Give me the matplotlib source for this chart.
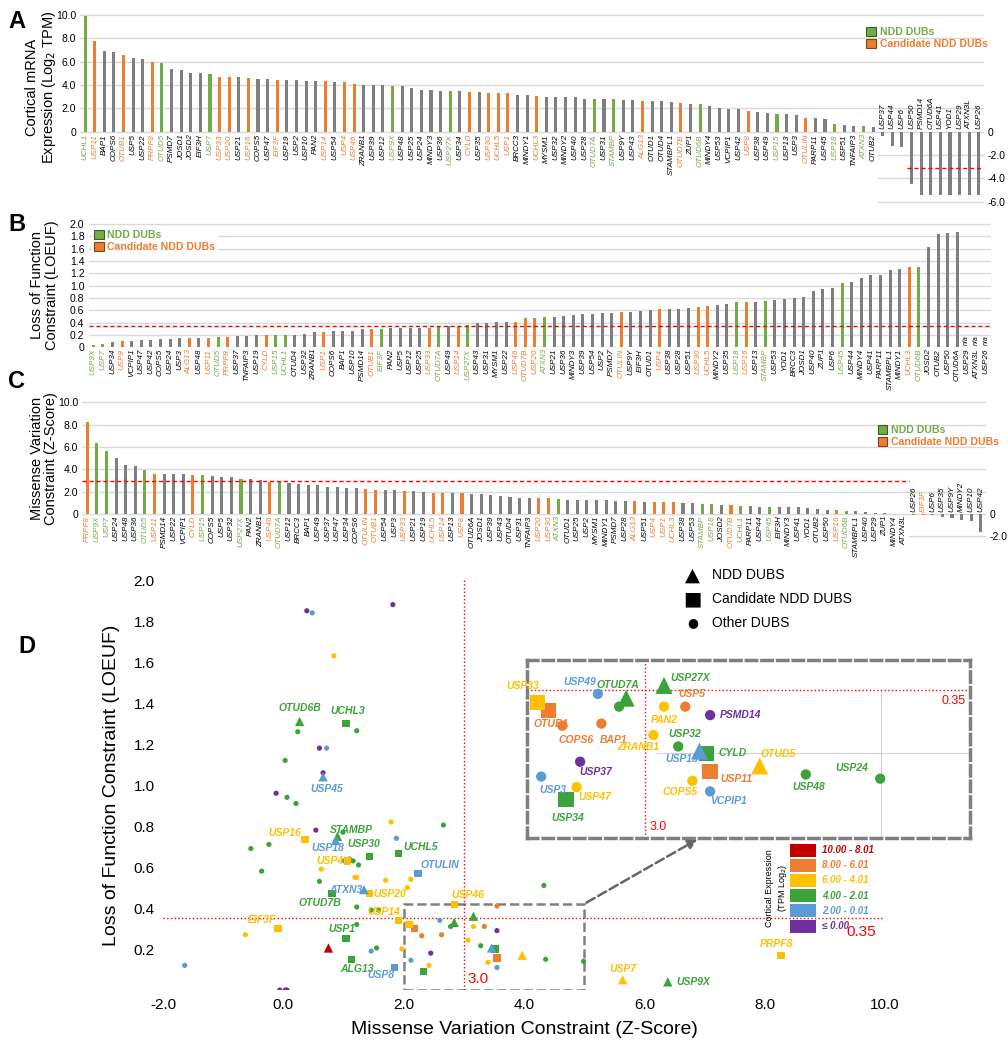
import numpy as np
import matplotlib.pyplot as plt
from matplotlib.patches import Rectangle, Patch

plt.rcParams['font.family'] = ['Liberation Sans', 'DejaVu Sans']

GREEN = '#70ad47'
ORANGE = '#ed7d31'
GREY = '#7f7f7f'
RED = '#ff0000'

ndd = ['UCHL1', 'OTUD5', 'USP7', 'USP9X', 'USP27X', 'OTUD7A', 'STAMBP', 'OTUD6B',
       'USP15', 'USP18', 'ATXN3', 'USP45']
candidate = ['USP11', 'OTUB1', 'PRPF8', 'USP33', 'USP20', 'USP16', 'EIF3F', 'USP14',
             'USP4', 'USP46', 'CYLD', 'USP30', 'UCHL5', 'USP1', 'UCHL3', 'ALG13',
             'OTUD7B', 'USP8', 'OTULIN']

# panel A: cortical expression (log2 TPM)
a_genes = ['UCHL1', 'USP11', 'BAP1', 'COPS6', 'OTUB1', 'USP5', 'USP22', 'PRPF8', 'OTUD5',
           'PSMD7', 'JOSD1', 'JOSD2', 'EIF3H', 'USP7', 'USP33', 'USP20', 'USP21', 'USP16',
           'COPS5', 'USP47', 'EIF3F', 'USP19', 'USP2', 'USP10', 'PAN2', 'USP14', 'USP54',
           'USP4', 'USP46', 'ZRANB1', 'USP39', 'USP12', 'USP9X', 'USP48', 'USP25', 'USP24',
           'MINDY3', 'USP36', 'USP27X', 'USP34', 'CYLD', 'USP35', 'USP30', 'UCHL5', 'USP1',
           'BRCC3', 'MINDY1', 'UCHL3', 'MYSM1', 'USP32', 'MINDY2', 'USP40', 'USP28',
           'OTUD7A', 'USP31', 'STAMBP', 'USP9Y', 'USP43', 'ALG13', 'OTUD1', 'OTUD4',
           'STAMBPL1', 'OTUD7B', 'ZUP1', 'OTUD6B', 'MINDY4', 'USP53', 'VCPIP1', 'USP42',
           'USP8', 'USP38', 'USP49', 'USP15', 'USP13', 'USP3', 'OTULIN', 'PARP11', 'USP45',
           'USP18', 'USP51', 'TNFAIP3', 'ATXN3', 'OTUB2', 'USP37', 'USP44', 'USP6', 'USP50',
           'PSMD14', 'OTUD6A', 'USP41', 'YOD1', 'USP29', 'ATXN3L', 'USP26']
a_vals = [9.9, 7.77, 6.9, 6.83, 6.54, 6.26, 6.23, 6.0, 5.91, 5.4, 5.31, 5.06, 5.0, 4.94,
          4.69, 4.69, 4.66, 4.57, 4.54, 4.49, 4.43, 4.43, 4.43, 4.34, 4.34, 4.34, 4.23,
          4.23, 4.06, 4.03, 4.03, 4.0, 3.94, 3.89, 3.71, 3.54, 3.54, 3.51, 3.49, 3.46, 3.43,
          3.37, 3.34, 3.34, 3.31, 3.17, 3.11, 3.06, 2.97, 2.97, 2.94, 2.94, 2.83, 2.8, 2.8,
          2.77, 2.71, 2.69, 2.66, 2.6, 2.6, 2.54, 2.46, 2.37, 2.37, 2.2, 2.03, 1.97, 1.94,
          1.77, 1.71, 1.63, 1.49, 1.49, 1.46, 1.17, 1.14, 1.09, 0.63, 0.57, 0.51, 0.49,
          0.37, -0.37, -1.23, -1.29, -4.43, -5.37, -5.37, -5.37, -5.37, -5.37, -5.37, -5.37]
a_cut = -3.1

# panel B: LOEUF
b_genes = ['USP9X', 'USP7', 'USP34', 'USP8', 'VCPIP1', 'USP47', 'USP42', 'COPS5', 'USP24',
           'USP3', 'ALG13', 'USP48', 'USP11', 'OTUD5', 'PRPF8', 'USP37', 'TNFAIP3', 'USP19',
           'CYLD', 'USP15', 'UCHL1', 'OTUD4', 'USP32', 'ZRANB1', 'USP1', 'COPS6', 'BAP1',
           'USP10', 'PSMD14', 'OTUB1', 'EIF3F', 'PAN2', 'USP5', 'USP12', 'USP25', 'USP33',
           'OTUD7A', 'USP49', 'USP14', 'USP27X', 'USP43', 'USP31', 'MYSM1', 'USP22', 'USP46',
           'OTUD7B', 'USP20', 'ATXN3', 'USP21', 'USP36', 'MINDY3', 'USP39', 'USP54', 'USP2',
           'PSMD7', 'OTULIN', 'USP9Y', 'EIF3H', 'OTUD1', 'USP4', 'USP38', 'USP28', 'USP51',
           'USP30', 'UCHL5', 'MINDY2', 'USP35', 'USP18', 'USP16', 'USP13', 'STAMBP', 'USP53',
           'YOD1', 'BRCC3', 'JOSD1', 'USP40', 'ZUP1', 'USP6', 'USP45', 'USP44', 'MINDY4',
           'USP41', 'PARP11', 'STAMBPL1', 'MINDY1', 'UCHL3', 'OTUD6B', 'JOSD2', 'OTUB2',
           'USP50', 'OTUD6A', 'USP29', 'ATXN3L', 'USP26']
b_vals = [0.04, 0.05, 0.09, 0.11, 0.11, 0.12, 0.12, 0.135, 0.14, 0.145, 0.15, 0.15, 0.157,
          0.17, 0.17, 0.18, 0.19, 0.2, 0.2, 0.205, 0.205, 0.205, 0.216, 0.243, 0.25, 0.265,
          0.27, 0.27, 0.29, 0.3, 0.3, 0.31, 0.31, 0.31, 0.32, 0.32, 0.33, 0.34, 0.34, 0.36,
          0.39, 0.39, 0.405, 0.41, 0.416, 0.47, 0.47, 0.49, 0.5, 0.51, 0.53, 0.535, 0.54,
          0.55, 0.55, 0.57, 0.58, 0.59, 0.61, 0.63, 0.63, 0.63, 0.64, 0.65, 0.665, 0.69,
          0.71, 0.73, 0.735, 0.74, 0.75, 0.77, 0.78, 0.805, 0.82, 0.91, 0.94, 0.96, 1.04,
          1.06, 1.12, 1.18, 1.18, 1.26, 1.265, 1.3, 1.31, 1.63, 1.84, 1.85, 1.88,
          np.nan, np.nan, np.nan]
b_cut = 0.35

# panel C: missense Z-score
c_genes = ['PRPF8', 'USP9X', 'USP7', 'USP24', 'USP48', 'USP36', 'OTUD5', 'USP11', 'PSMD14',
           'USP22', 'VCPIP1', 'CYLD', 'USP15', 'COPS5', 'USP5', 'USP32', 'USP27X', 'PAN2',
           'ZRANB1', 'USP46', 'OTUD7A', 'USP12', 'BRCC3', 'BAP1', 'USP49', 'USP37', 'USP47',
           'USP34', 'COPS6', 'OTULIN', 'OTUB1', 'USP54', 'USP3', 'USP33', 'USP21', 'USP19',
           'UCHL5', 'USP14', 'USP13', 'USP8', 'OTUD6A', 'JOSD1', 'USP39', 'USP43', 'OTUD4',
           'USP31', 'TNFAIP3', 'USP20', 'USP30', 'ATXN3', 'OTUD1', 'USP25', 'USP2', 'MYSM1',
           'MINDY1', 'PSMD7', 'USP28', 'ALG13', 'USP51', 'USP4', 'USP1', 'UCHL3', 'USP38',
           'USP53', 'STAMBP', 'USP18', 'JOSD2', 'OTUD7B', 'UCHL1', 'PARP11', 'USP44', 'USP45',
           'EIF3H', 'MINDY3', 'USP41', 'YOD1', 'OTUB2', 'USP50', 'USP16', 'OTUD6B',
           'STAMBPL1', 'USP40', 'USP29', 'ZUP1', 'MINDY4', 'ATXN3L', 'USP26', 'EIF3F', 'USP6',
           'USP35', 'USP9Y', 'MINDY2', 'USP10', 'USP42']
c_vals = [8.27, 6.39, 5.64, 4.99, 4.36, 4.33, 3.97, 3.55, 3.55, 3.55, 3.55, 3.52, 3.46, 3.4,
          3.34, 3.28, 3.16, 3.16, 3.07, 2.84, 2.84, 2.78, 2.66, 2.63, 2.6, 2.45, 2.42, 2.33,
          2.3, 2.24, 2.18, 2.12, 2.12, 2.09, 2.06, 1.97, 1.91, 1.91, 1.88, 1.85, 1.82, 1.79,
          1.7, 1.58, 1.55, 1.46, 1.46, 1.43, 1.43, 1.34, 1.25, 1.22, 1.22, 1.22, 1.22, 1.19,
          1.16, 1.13, 1.1, 1.07, 1.04, 1.04, 1.01, 0.99, 0.9, 0.87, 0.84, 0.81, 0.75, 0.72,
          0.66, 0.66, 0.63, 0.6, 0.6, 0.54, 0.48, 0.39, 0.36, 0.27, 0.24, 0.21, 0.06, 0.06,
          0.03, 0.03, -0.06, -0.09, -0.12, -0.24, -0.36, -0.54, -0.63, -1.64]
c_cut = 3.0

# expression bins for panel D
bin_labels = ['10.00 - 8.01', '8.00 - 6.01', '6.00 - 4.01', '4.00 - 2.01', '2.00 - 0.01',
              '\u2264 0.00']
bin_lower = [8.0, 6.0, 4.0, 2.0, 0.0, -99]
bin_colors = ['#c00000', '#ed7d31', '#ffc000', '#3ca33a', '#5b9bd5', '#7030a0']

# labelled genes in panel D: label offset from the point (pixels)
d_labels_main = {'OTUD6B': (0, 13), 'UCHL3': (2, 13), 'USP45': (4, -12), 'STAMBP': (14, 6),
                 'USP16': (-20, 6), 'USP18': (-8, -8), 'USP30': (-6, 13), 'UCHL5': (22, 7),
                 'USP4': (-18, 0), 'OTULIN': (22, 8), 'ATXN3': (-18, 0), 'USP46': (14, 10),
                 'OTUD7B': (-12, -9), 'USP20': (20, 0), 'USP14': (-14, 8), 'EIF3F': (-16, 9),
                 'USP1': (-4, 10), 'ALG13': (6, -10), 'USP8': (-14, -8), 'USP7': (0, 11),
                 'USP9X': (26, 0), 'PRPF8': (-4, 11)}
d_labels_zoom = {'USP33': (-15, 16), 'OTUB1': (3, -13), 'COPS6': (14, -14),
                 'USP49': (-18, 12), 'OTUD7A': (-8, 13), 'USP27X': (26, 7), 'USP5': (7, 13),
                 'BAP1': (12, -16), 'PAN2': (0, -13), 'PSMD14': (30, 0), 'ZRANB1': (-15, -12),
                 'USP32': (7, 12), 'USP15': (-18, -8), 'CYLD': (26, 0), 'USP11': (26, -8),
                 'OTUD5': (18, 12), 'USP19': (22, 0), 'USP3': (12, -13), 'USP37': (16, -10),
                 'USP47': (18, -10), 'USP34': (2, -18), 'COPS5': (-12, -11),
                 'VCPIP1': (18, -10), 'USP48': (3, -13), 'USP24': (-28, 11)}


def kind(g, extra_ndd=(), not_ndd=()):
    if g in extra_ndd:
        return 'ndd'
    if g in ndd and g not in not_ndd:
        return 'ndd'
    if g in candidate:
        return 'cand'
    return 'other'


BAR_COL = {'ndd': GREEN, 'cand': ORANGE, 'other': GREY}
TXT_COL = {'ndd': GREEN, 'cand': ORANGE, 'other': 'black'}


def bar_panel(ax, genes, vals, extra_ndd=(), not_ndd=(), na=False):
    x = np.arange(len(genes))
    kinds = [kind(g, extra_ndd, not_ndd) for g in genes]
    v = np.nan_to_num(np.array(vals, dtype=float))
    ax.bar(x, v, width=0.32, color=[BAR_COL[k] for k in kinds], zorder=3)
    span = ax.get_ylim()[1] - ax.get_ylim()[0]
    for i, (g, val, k) in enumerate(zip(genes, vals, kinds)):
        if na and np.isnan(val):
            ax.text(i, 0.015 * span, 'n/a', rotation=90, ha='center', va='bottom',
                    fontsize=5, style='italic', color='black')
        if val >= 0 or np.isnan(val):
            ax.text(i, -0.012 * span, g, rotation=90, ha='center', va='top',
                    fontsize=5.8, style='italic', color=TXT_COL[k])
        else:
            ax.text(i, 0.012 * span, g, rotation=90, ha='center', va='bottom',
                    fontsize=5.8, style='italic', color=TXT_COL[k])
    ax.set_xlim(-0.5, len(genes) - 0.5)
    for s in ax.spines.values():
        s.set_visible(False)
    ax.set_xticks([])
    ax.tick_params(axis='y', length=0, labelsize=7.5, pad=3)


def add_legend(ax, loc, anchor, frame):
    handles = [Patch(facecolor=GREEN, edgecolor='#3a5f22', lw=0.8),
               Patch(facecolor=ORANGE, edgecolor='#8a4010', lw=0.8)]
    leg = ax.legend(handles, ['NDD DUBs', 'Candidate NDD DUBs'], loc=loc,
                    bbox_to_anchor=anchor, frameon=frame,
                    handlelength=0.9, handleheight=0.9, handletextpad=0.35,
                    labelspacing=0.2, borderpad=0.2, borderaxespad=0,
                    labelcolor=[GREEN, ORANGE],
                    prop={'weight': 'bold', 'size': 7.6})
    if frame:
        leg.get_frame().set_facecolor('white')
        leg.get_frame().set_edgecolor('none')
        leg.get_frame().set_alpha(1)
    leg.set_zorder(6)


fig = plt.figure(figsize=(10.08, 10.5), dpi=100)

# ---------------- A ----------------
axA = fig.add_axes([0.0796, 0.8055, 0.8962, 0.1827])
axA.set_ylim(-6.2, 10.2)
bar_panel(axA, a_genes, a_vals, not_ndd=('USP45',))
axA.set_yticks([0, 2, 4, 6, 8, 10])
axA.set_yticklabels(['0', '2.0', '4.0', '6.0', '8.0', '10.0'])
n = len(a_genes)
neg_start = next(i for i, v in enumerate(a_vals) if v < 0) - 0.5
for yv in [0, 2, 4, 6, 8, 10]:
    axA.axhline(yv, color='#d9d9d9', lw=1.0, zorder=1)
for yv in [-2, -4, -6]:
    axA.plot([neg_start, n - 0.5], [yv, yv], color='#d9d9d9', lw=1.0, zorder=1)
big_neg = next(i for i, v in enumerate(a_vals) if v < -3) - 0.5
axA.plot([big_neg, n - 0.5], [a_cut, a_cut], color=RED, ls=(0, (3, 2)), lw=1.0, zorder=4)
axA2 = axA.twinx()
axA2.set_ylim(axA.get_ylim())
axA2.set_yticks([0, -2, -4, -6])
axA2.set_yticklabels(['0', '-2.0', '-4.0', '-6.0'])
axA2.tick_params(length=0, labelsize=7.5, pad=3)
for s in axA2.spines.values():
    s.set_visible(False)
axA.set_ylabel('Cortical mRNA\nExpression (Log$_2$ TPM)', fontsize=10.5, linespacing=1.05)
axA.yaxis.set_label_coords(-0.025, 0.61)
fig.text(0.008, 0.99, 'A', fontsize=17, fontweight='bold', va='top')
add_legend(axA, 'upper left', (0.868, 0.935), False)

# ---------------- B ----------------
axB = fig.add_axes([0.0878, 0.6692, 0.8952, 0.1185])
axB.set_ylim(0, 2.02)
bar_panel(axB, b_genes, b_vals, extra_ndd=('EIF3F',), na=True)
yt = np.round(np.arange(0, 2.01, 0.2), 1)
axB.set_yticks(yt)
axB.set_yticklabels(['0'] + [f'{v:.1f}' for v in yt[1:]])
for yv in yt:
    axB.axhline(yv, color='#d9d9d9', lw=1.0, zorder=1)
axB.axhline(b_cut, color=RED, ls=(0, (3, 2)), lw=1.0, zorder=4)
axB.set_ylabel('Loss of Function\nConstraint (LOEUF)', fontsize=10.5, linespacing=1.05)
axB.yaxis.set_label_coords(-0.033, 0.5)
fig.text(0.008, 0.797, 'B', fontsize=17, fontweight='bold', va='top')
add_legend(axB, 'upper left', (0.004, 0.96), True)

# ---------------- C ----------------
axC = fig.add_axes([0.0818, 0.487, 0.896, 0.1319])
axC.set_ylim(-2.2, 10.2)
bar_panel(axC, c_genes, c_vals)
axC.set_yticks([0, 2, 4, 6, 8, 10])
axC.set_yticklabels(['0', '2.0', '4.0', '6.0', '8.0', '10.0'])
cneg = next(i for i, v in enumerate(c_vals) if v < 0) - 0.5
for yv in [0, 2, 4, 6, 8, 10]:
    axC.axhline(yv, color='#d9d9d9', lw=1.0, zorder=1)
axC.plot([cneg, len(c_genes) - 0.5], [-2, -2], color='#d9d9d9', lw=1.0, zorder=1)
axC.plot([-0.5, cneg], [c_cut, c_cut], color=RED, ls=(0, (3, 2)), lw=1.0, zorder=4)
axC2 = axC.twinx()
axC2.set_ylim(axC.get_ylim())
axC2.set_yticks([0, -2])
axC2.set_yticklabels(['0', '-2.0'])
axC2.tick_params(length=0, labelsize=7.5, pad=3)
for s in axC2.spines.values():
    s.set_visible(False)
axC.set_ylabel('Missense Variation\nConstraint (Z-Score)', fontsize=10.5, linespacing=1.05)
axC.yaxis.set_label_coords(-0.027, 0.58)
fig.text(0.008, 0.648, 'C', fontsize=17, fontweight='bold', va='top')
add_legend(axC, 'upper left', (0.878, 0.835), False)

# ---------------- D ----------------
expr = dict(zip(a_genes, a_vals))
loeuf = dict(zip(b_genes, b_vals))
zsc = dict(zip(c_genes, c_vals))


def bin_colour(e):
    for lo, c in zip(bin_lower, bin_colors):
        if e > lo:
            return c
    return bin_colors[-1]


def d_kind(g):
    if g == 'USP34':
        return 'cand'
    return kind(g)


marker = {'ndd': '^', 'cand': 's', 'other': 'o'}
msize = {'ndd': 45, 'cand': 28, 'other': 14}

axD = fig.add_axes([0.1617, 0.0571, 0.7163, 0.3905])
dz = np.array([zsc[g] for g in c_genes])
dl = np.nan_to_num(np.array([loeuf[g] for g in c_genes], dtype=float))
dcol = [bin_colour(expr[g]) for g in c_genes]
dk = [d_kind(g) for g in c_genes]
for k in ['other', 'cand', 'ndd']:
    idx = [i for i, kk in enumerate(dk) if kk == k]
    axD.scatter(dz[idx], dl[idx], marker=marker[k], s=msize[k],
                c=[dcol[i] for i in idx], linewidths=0, zorder=3)
axD.set_xlim(-2.0, 10.0)
axD.set_ylim(0, 2.0)
xt = np.arange(-2, 10.1, 2)
axD.set_xticks(xt)
axD.set_xticklabels([f'{v:.1f}' for v in xt])
ytd = np.round(np.arange(0.2, 2.01, 0.2), 1)
axD.set_yticks(ytd)
axD.set_yticklabels([f'{v:.1f}' for v in ytd])
axD.tick_params(length=0, labelsize=11, pad=6)
for s in axD.spines.values():
    s.set_visible(False)
axD.axhline(b_cut, color=RED, ls=':', lw=1.0, zorder=2)
axD.axvline(c_cut, color=RED, ls=':', lw=1.0, zorder=2)
axD.text(9.85, b_cut - 0.035, '0.35', color=RED, fontsize=11, ha='right', va='top')
axD.text(c_cut + 0.06, 0.02, '3.0', color=RED, fontsize=11, ha='left', va='bottom')
axD.set_xlabel('Missense Variation Constraint (Z-Score)', fontsize=14, labelpad=6)
axD.set_ylabel('Loss of Function Constraint (LOEUF)', fontsize=14, labelpad=10)
for g, (ox, oy) in d_labels_main.items():
    i = c_genes.index(g)
    axD.annotate(g, (dz[i], dl[i]), xytext=(ox, oy), textcoords='offset pixels',
                 ha='center', va='center', fontsize=7.5, fontweight='bold', style='italic',
                 color=dcol[i], zorder=5)
fig.text(0.018, 0.395, 'D', fontsize=17, fontweight='bold', va='top')

# zoom box on the main plot
zx0, zx1, zy0, zy1 = 2.0, 5.0, 0.0, 0.42
axD.add_patch(Rectangle((zx0, zy0), zx1 - zx0, zy1 - zy0, fill=False, ls='--',
                        edgecolor='#808080', lw=1.8, zorder=1))

# magnified view
ix0, ix1 = 2.0, 5.75
axI = fig.add_axes([0.5228, 0.2019, 0.4395, 0.1695])
sel = [i for i in range(len(c_genes)) if zx0 <= dz[i] <= zx1 and 0 < dl[i] <= 0.4]
for k in ['other', 'cand', 'ndd']:
    idx = [i for i in sel if dk[i] == k]
    axI.scatter(dz[idx], dl[idx], marker=marker[k], s={'ndd': 150, 'cand': 120, 'other': 55}[k],
                c=[dcol[i] for i in idx], linewidths=0, zorder=3)
axI.set_xlim(ix0, ix1)
axI.set_ylim(zy0, zy1)
axI.set_xticks([])
axI.set_yticks([])
for s in axI.spines.values():
    s.set_linestyle((0, (3, 1.5)))
    s.set_edgecolor('#7f7f7f')
    s.set_linewidth(2.5)
axI.axhline(0.2, xmin=(3.1 - ix0) / (ix1 - ix0), color='#d0d0d0', lw=0.8, zorder=1)
axI.axvline(5.0, ymin=0, ymax=0.35 / zy1, color='#d0d0d0', lw=0.8, zorder=1)
axI.axhline(b_cut, color=RED, ls=':', lw=1.0, zorder=2)
axI.axvline(c_cut, color=RED, ls=':', lw=1.0, zorder=2)
axI.text(ix1 - 0.04, b_cut - 0.012, '0.35', color=RED, fontsize=9, ha='right', va='top')
axI.text(c_cut + 0.04, 0.012, '3.0', color=RED, fontsize=9, ha='left', va='bottom')
for g, (ox, oy) in d_labels_zoom.items():
    i = c_genes.index(g)
    axI.annotate(g, (dz[i], dl[i]), xytext=(ox, oy), textcoords='offset pixels',
                 ha='center', va='center', fontsize=7.5, fontweight='bold', style='italic',
                 color=dcol[i], zorder=5)
axD.annotate('', xy=(0.39, 0.0), xycoords=axI.transAxes, xytext=(zx1, zy1),
             textcoords='data',
             arrowprops=dict(arrowstyle='-|>', ls='--', color='#666666', lw=1.8,
                             mutation_scale=14))

# marker legend
for j, (k, t) in enumerate([('ndd', 'NDD DUBS'), ('cand', 'Candidate NDD DUBS'),
                            ('other', 'Other DUBS')]):
    yy = 1 - (575 + j * 24) / 1050
    sym = {'ndd': '\u25b2', 'cand': '\u25a0', 'other': '\u25cf'}[k]
    fig.text(0.687, yy, sym, fontsize=14 if k != 'other' else 9, ha='center', va='center',
             family='DejaVu Sans')
    fig.text(0.706, yy, t, fontsize=10, ha='left', va='center')

# expression colour legend
for j, (lab, c) in enumerate(zip(bin_labels, bin_colors)):
    yy = 1 - (850 + j * 15.2) / 1050
    fig.patches.append(Rectangle((790 / 1008, yy - 6.5 / 1050), 26 / 1008, 13 / 1050,
                                 transform=fig.transFigure, facecolor=c, edgecolor='none'))
    fig.text(822 / 1008, yy, lab, color=c, fontsize=7, fontweight='bold', style='italic',
             va='center', ha='left')
fig.text(777 / 1008, 1 - 888 / 1050, 'Cortical Expression\n(TPM Log$_2$)', rotation=90,
         fontsize=6.5, ha='center', va='center', multialignment='center')

fig.savefig('out.png', dpi=100)
